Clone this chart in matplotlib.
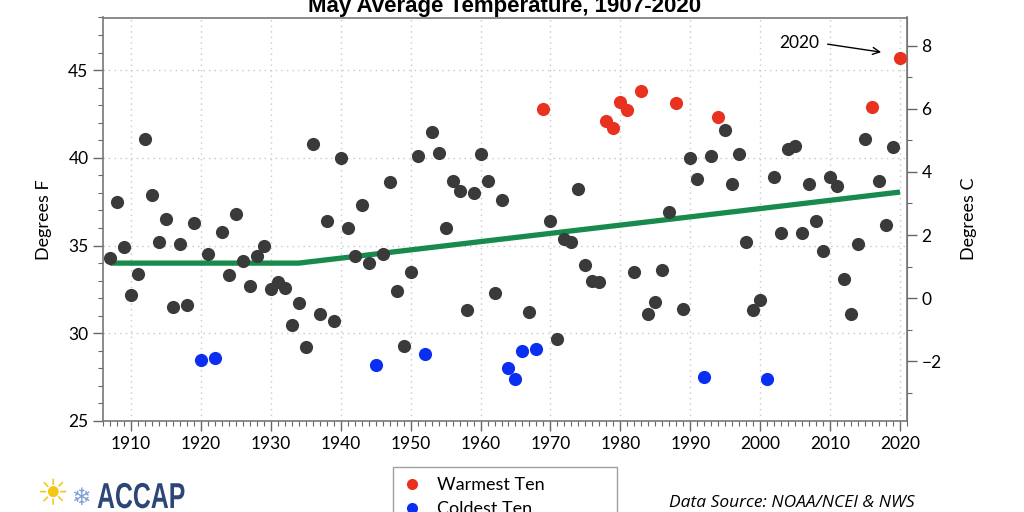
import numpy as np
from matplotlib import pyplot as plt
from matplotlib.lines import Line2D
from matplotlib.ticker import MultipleLocator
from matplotlib.textpath import TextPath
from matplotlib.patches import PathPatch
from matplotlib.font_manager import FontProperties
from matplotlib.transforms import Affine2D

plt.rcParams['font.family'] = ['Lato', 'DejaVu Sans']

# May average temperature (deg F), 1907-2020
years = np.arange(1907, 2021)
temps = [
    34.3, 37.5, 34.9,
    32.2, 33.4, 41.1, 37.9, 35.2, 36.5, 31.5, 35.1, 31.6, 36.3,
    28.5, 34.5, 28.6, 35.8, 33.3, 36.8, 34.1, 32.7, 34.4, 35.0,
    32.5, 32.9, 32.6, 30.5, 31.7, 29.2, 40.8, 31.1, 36.4, 30.7,
    40.0, 36.0, 34.4, 37.3, 34.0, 28.2, 34.5, 38.6, 32.4, 29.3,
    33.5, 40.1, 28.8, 41.5, 40.3, 36.0, 38.7, 38.1, 31.3, 38.0,
    40.2, 38.7, 32.3, 37.6, 28.0, 27.4, 29.0, 31.2, 29.1, 42.8,
    36.4, 29.7, 35.4, 35.2, 38.2, 33.9, 33.0, 32.9, 42.1, 41.7,
    43.2, 42.7, 33.5, 43.8, 31.1, 31.8, 33.6, 36.9, 43.1, 31.4,
    40.0, 38.8, 27.5, 40.1, 42.3, 41.6, 38.5, 40.2, 35.2, 31.3,
    31.9, 27.4, 38.9, 35.7, 40.5, 40.7, 35.7, 38.5, 36.4, 34.7,
    38.9, 38.4, 33.1, 31.1, 35.1, 41.1, 42.9, 38.7, 36.2, 40.6,
    45.7,
]
warm_years = [1969, 1978, 1979, 1980, 1981, 1983, 1988, 1994, 2016, 2020]
cold_years = [1920, 1922, 1945, 1952, 1964, 1965, 1966, 1968, 1992, 2001]

# piecewise trend line
trend_years = [1907, 1934, 2020]
trend_vals = [34.0, 34.0, 38.05]

gray_col = "#3a3a3a"
warm_col = "#e8321f"
cold_col = "#0a2ff2"
trend_col = "#178a4c"

temps = np.array(temps)
is_warm = np.isin(years, warm_years)
is_cold = np.isin(years, cold_years)
is_norm = ~(is_warm | is_cold)

fig = plt.figure(figsize=(10.24, 5.12), dpi=100)
ax = fig.add_axes([103 / 1024, 1 - 421 / 512, 804 / 1024, 403.5 / 512])

ax.plot(trend_years, trend_vals, color=trend_col, lw=3.8, zorder=2, solid_capstyle='butt')
ax.scatter(years[is_norm], temps[is_norm], s=90, color=gray_col, lw=0, zorder=3)
ax.scatter(years[is_warm], temps[is_warm], s=90, color=warm_col, lw=0, zorder=3)
ax.scatter(years[is_cold], temps[is_cold], s=90, color=cold_col, lw=0, zorder=3)

ax.set_xlim(1906, 2021)
ax.set_ylim(25, 48)
ax.xaxis.set_major_locator(MultipleLocator(10))
ax.xaxis.set_minor_locator(MultipleLocator(1))
ax.yaxis.set_major_locator(MultipleLocator(5))
ax.yaxis.set_minor_locator(MultipleLocator(1))
ax.grid(True, which='major', ls=(0, (1, 3)), color='#c8c8c8', lw=1)
ax.set_axisbelow(True)
ax.tick_params(which='major', direction='out', length=7, width=1, color='#666666', labelsize=12.5)
ax.tick_params(which='minor', direction='out', length=3.5, width=0.8, color='#666666')
for sp in ax.spines.values():
    sp.set_color('#777777')
    sp.set_linewidth(1.2)
ax.set_ylabel("Degrees F", fontsize=13, labelpad=12)
ax.set_title("May Average Temperature, 1907-2020", fontsize=16, fontweight='bold',
             family='Liberation Sans', pad=2)

sec = ax.secondary_yaxis('right', functions=(lambda f: (f - 32) * 5 / 9, lambda c: c * 9 / 5 + 32))
sec.yaxis.set_major_locator(MultipleLocator(2))
sec.yaxis.set_minor_locator(MultipleLocator(1))
sec.tick_params(which='major', direction='out', length=7, width=1, color='#666666', labelsize=12.5)
sec.tick_params(which='minor', direction='out', length=3.5, width=0.8, color='#666666')
sec.spines['right'].set_color('#777777')
sec.set_ylabel("Degrees C", fontsize=13, labelpad=14)

ax.annotate("2020", xy=(2017.7, 46.0), xytext=(2005.6, 46.55), fontsize=12.5,
            ha='center', va='center',
            arrowprops=dict(arrowstyle='->', color='black', lw=1, relpos=(1, 0.5), shrinkA=4))

handles = [
    Line2D([], [], ls='none', marker='o', ms=8, color=warm_col, mec='none'),
    Line2D([], [], ls='none', marker='o', ms=8, color=cold_col, mec='none'),
]
fig.legend(handles, ["Warmest Ten", "Coldest Ten"], loc='upper left',
           bbox_to_anchor=(393 / 1024, -0.3, 224 / 1024, 0.3 + (1 - 467 / 512)),
           mode='expand', borderaxespad=0, fontsize=13, frameon=True, fancybox=False,
           edgecolor='#888888', handlelength=1.0, handletextpad=0.9, borderpad=0.55,
           labelspacing=0.45)

fig.text(915 / 1024, 1 - 503 / 512, "Data Source: NOAA/NCEI & NWS", fontsize=12.5,
         style='italic', ha='right', va='center', family=['Open Sans', 'DejaVu Sans'])

# ACCAP logo approximation
fig.text(52 / 1024, 1 - 495 / 512, "\u2600", fontsize=26, color='#f5c518', ha='center', va='center',
         family='DejaVu Sans')
fig.text(82 / 1024, 1 - 498 / 512, "\u2744", fontsize=17, color='#7d9fd4', ha='center', va='center',
         family='DejaVu Sans')
logo_path = TextPath((0, 0), "ACCAP", size=36, prop=FontProperties(family='Liberation Sans', weight='bold'))
logo_tr = Affine2D().scale(0.69, 1.0).translate(97, 4)
fig.add_artist(PathPatch(logo_path, transform=logo_tr, color='#2b4677', lw=0))

fig.savefig("out.png", dpi=100)
